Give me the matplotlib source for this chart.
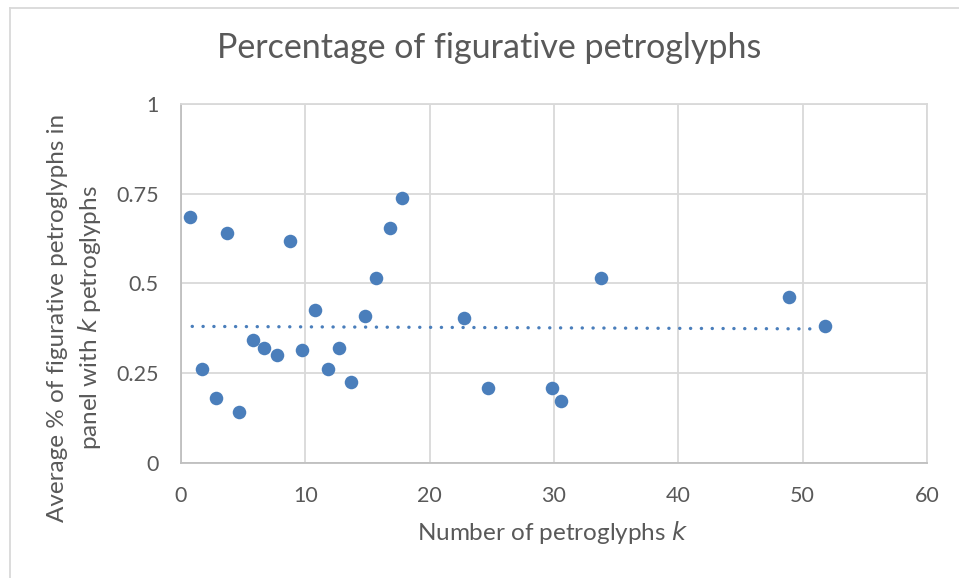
import matplotlib
matplotlib.use("Agg")
import matplotlib.pyplot as plt
import numpy as np
from matplotlib.lines import Line2D

k_values = [0.7, 1.7, 2.8, 3.7, 4.7, 5.8, 6.7, 7.7, 8.8, 9.7, 10.8, 11.8, 12.7, 13.7,
            14.8, 15.7, 16.8, 17.8, 22.8, 24.7, 29.8, 30.6, 33.8, 48.9, 51.8]
pct_figurative = [0.686, 0.261, 0.180, 0.640, 0.142, 0.343, 0.321, 0.299, 0.618, 0.313,
                  0.425, 0.261, 0.321, 0.224, 0.410, 0.514, 0.655, 0.737, 0.403, 0.209,
                  0.209, 0.172, 0.515, 0.462, 0.380]
trend_x = [0.9, 51.2]
trend_y = [0.380, 0.373]
x_ticks = [0, 10, 20, 30, 40, 50, 60]
y_ticks = [0, 0.25, 0.5, 0.75, 1]
y_tick_labels = ["0", "0.25", "0.5", "0.75", "1"]

plt.rcParams['font.family'] = ['Lato', 'DejaVu Sans']
text_color = "#595959"
grid_color = "#D9D9D9"
blue = "#4A7EBB"

W, H = 959, 578
fig = plt.figure(figsize=(9.59, 5.78), dpi=100)
ax = fig.add_axes([181 / W, 1 - 462.7 / H, (927 - 181) / W, (462.7 - 104) / H])

ax.scatter(k_values, pct_figurative, s=95, color=blue, zorder=3, linewidths=0)
ax.plot(trend_x, trend_y, color=blue, linewidth=2.4,
        linestyle=(0, (0.05, 3.2)), dash_capstyle='round', zorder=2)

ax.set_xlim(0, 60)
ax.set_ylim(0, 1)
ax.set_xticks(x_ticks)
ax.set_yticks(y_ticks)
ax.set_yticklabels(y_tick_labels)
ax.grid(True, color=grid_color, linewidth=1.3, zorder=0)
ax.set_axisbelow(True)
for s in ax.spines.values():
    s.set_color(grid_color)
    s.set_linewidth(1.3)
ax.spines['left'].set_color("#BFBFBF")
ax.spines['bottom'].set_color("#BFBFBF")
ax.tick_params(length=0, labelsize=15.5, colors=text_color)
ax.tick_params(axis='x', pad=17)
ax.tick_params(axis='y', pad=16)

fig.text(553 / W, 1 - 533 / H, "Number of petroglyphs $\\mathit{k}$", fontsize=17.5,
         color=text_color, ha='center', va='center')
fig.text(75 / W, 1 - 318 / H,
         "Average % of figurative petroglyphs in\npanel with $\\mathit{k}$ petroglyphs",
         fontsize=17.5, color=text_color, ha='center', va='center', rotation=90,
         linespacing=1.35, multialignment='center')
fig.text(489 / W, 1 - 48 / H, "Percentage of figurative petroglyphs", fontsize=24.5,
         color=text_color, ha='center', va='center')

fig.add_artist(Line2D([10 / W, 1], [1 - 7.5 / H, 1 - 7.5 / H], color="#D9D9D9", linewidth=1.3,
                      transform=fig.transFigure))
fig.add_artist(Line2D([10 / W, 10 / W], [0, 1 - 7.5 / H], color="#D9D9D9", linewidth=1.3,
                      transform=fig.transFigure))

fig.savefig("out.png", dpi=100)
